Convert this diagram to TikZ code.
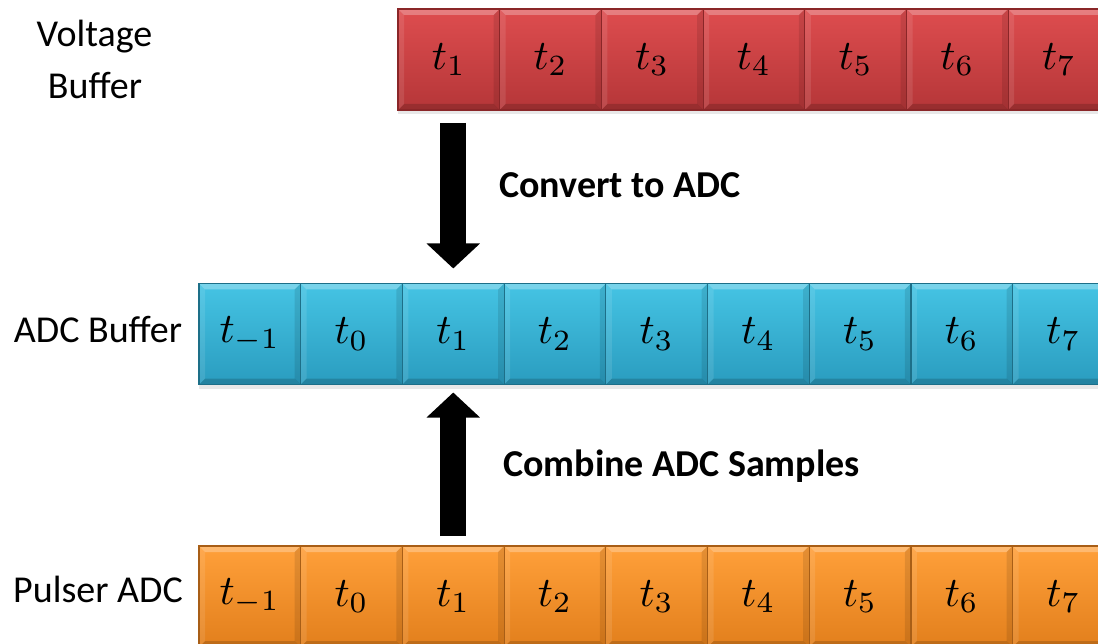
\documentclass[tikz,border=0pt]{standalone}
\usepackage{fontspec}
\setmainfont{Carlito}
\usetikzlibrary{arrows.meta,calc,shadows}
\definecolor{redTop}{HTML}{DE4D4F}
\definecolor{redBot}{HTML}{B53638}
\definecolor{redEdge}{HTML}{8A2628}
\definecolor{bluTop}{HTML}{45C4E4}
\definecolor{bluBot}{HTML}{2A9CBF}
\definecolor{bluEdge}{HTML}{1D6F88}
\definecolor{orgTop}{HTML}{FFA03A}
\definecolor{orgBot}{HTML}{E27F1C}
\definecolor{orgEdge}{HTML}{A85E16}
\newcommand\bevelpic{%
  \fill[white,opacity=0.28] (path picture bounding box.north west) -- (path picture bounding box.north east)
     -- ($(path picture bounding box.north east)+(-6pt,-6pt)$) -- ($(path picture bounding box.north west)+(6pt,-6pt)$) -- cycle;
  \fill[black,opacity=0.16] (path picture bounding box.south west) -- (path picture bounding box.south east)
     -- ($(path picture bounding box.south east)+(-6pt,6pt)$) -- ($(path picture bounding box.south west)+(6pt,6pt)$) -- cycle;
  \fill[white,opacity=0.10] (path picture bounding box.north west) -- (path picture bounding box.south west)
     -- ($(path picture bounding box.south west)+(6pt,6pt)$) -- ($(path picture bounding box.north west)+(6pt,-6pt)$) -- cycle;
  \fill[black,opacity=0.10] (path picture bounding box.north east) -- (path picture bounding box.south east)
     -- ($(path picture bounding box.south east)+(-6pt,6pt)$) -- ($(path picture bounding box.north east)+(-6pt,-6pt)$) -- cycle;
}
\newcommand\tlab[1]{\scalebox{4.2}{$t_{#1}$}}
\newcommand\lblfont{\fontsize{38}{44}\selectfont}
\tikzset{
  cellbox/.style={minimum width=101.7pt, minimum height=101pt, inner sep=0pt, outer sep=0pt,
    line width=1.2pt, path picture={\bevelpic},
    drop shadow={shadow xshift=0pt, shadow yshift=-4pt, opacity=0.18}},
  redcell/.style={cellbox, top color=redTop, bottom color=redBot, draw=redEdge},
  blucell/.style={cellbox, top color=bluTop, bottom color=bluBot, draw=bluEdge},
  orgcell/.style={cellbox, top color=orgTop, bottom color=orgBot, draw=orgEdge},
  rowlabel/.style={font=\lblfont, anchor=base, inner sep=0pt},
  oplabel/.style={font=\lblfont\bfseries, anchor=base, inner sep=0pt},
  bigarrow/.style={line width=26pt, black, -{Triangle[width=52pt,length=25pt]}}
}
\begin{document}
\begin{tikzpicture}[x=1pt,y=-1pt]
\clip (0,0) rectangle (1098,644);
\fill[white] (0,0) rectangle (1098,644);
% voltage buffer row
\foreach \i in {1,...,7}
  \node[redcell] (r\i) at ({398+101.7*(\i-1)+50.85},59.5) {\tlab{\i}};
% ADC buffer row
\foreach \lab/\nm [count=\k from 0] in {{-1}/m1,0/0,1/1,2/2,3/3,4/4,5/5,6/6,7/7}
  \node[blucell] (b\nm) at ({199+101.7*\k+50.85},334) {\tlab{\lab}};
% pulser ADC row
\foreach \lab/\nm [count=\k from 0] in {{-1}/m1,0/0,1/1,2/2,3/3,4/4,5/5,6/6,7/7}
  \node[orgcell] (o\nm) at ({199+101.7*\k+50.85},596.5) {\tlab{\lab}};
% row labels
\node[rowlabel] (vl1) at (94.5,47) {Voltage};
\node[rowlabel] (vl2) at (95,99) {Buffer};
\node[rowlabel] (al) at (98,342) {ADC Buffer};
\node[rowlabel] (pl) at (98,602) {Pulser ADC};
% arrows
\draw[bigarrow] ($(b1.north |- r1.south)+(0pt,-13pt)$) -- ($(b1.north)+(0pt,15pt)$);
\draw[bigarrow] ($(o1.north)+(0pt,10pt)$) -- ($(b1.south)+(0pt,-8pt)$);
% operation labels
\node[oplabel] (cv) at (620,198) {Convert to ADC};
\node[oplabel] (cb) at (681.5,476) {Combine ADC Samples};
\end{tikzpicture}
\end{document}
